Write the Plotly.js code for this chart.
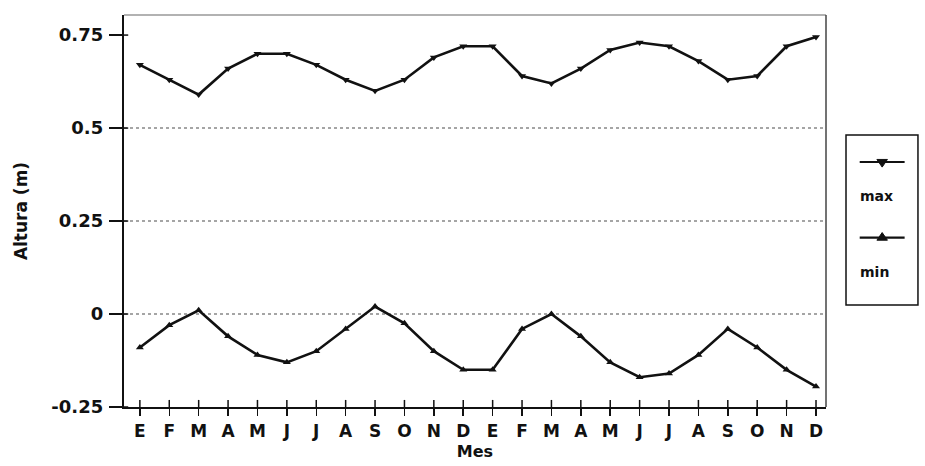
<!DOCTYPE html>
<html>
<head>
<meta charset="utf-8">
<script src="https://cdn.plot.ly/plotly-3.0.1.min.js"></script>
<style>html,body{margin:0;padding:0;background:#fff}#chart{width:925px;height:466px}</style>
</head>
<body>
<div id="chart"></div>
<script>
const months = ["E","F","M","A","M","J","J","A","S","O","N","D","E","F","M","A","M","J","J","A","S","O","N","D"];
const maxVals = [0.67,0.63,0.59,0.66,0.70,0.70,0.67,0.63,0.60,0.63,0.69,0.72,
                 0.72,0.64,0.62,0.66,0.71,0.73,0.72,0.68,0.63,0.64,0.72,0.745];
const minVals = [-0.09,-0.03,0.01,-0.06,-0.11,-0.13,-0.10,-0.04,0.02,-0.025,-0.10,-0.15,
                 -0.15,-0.04,0.00,-0.06,-0.13,-0.17,-0.16,-0.11,-0.04,-0.09,-0.15,-0.195];
const yTicks = [-0.25,0,0.25,0.5,0.75];
const yTickText = ["-0.25","0","0.25","0.5","0.75"];
const gridVals = [0,0.25,0.5];
const seriesNames = ["max","min"];

const idx = months.map((_,i)=>i);
const font = {family:"DejaVu Sans, Liberation Sans, sans-serif", color:"#111", weight:"bold"};

const traces = [
  {x: idx, y: maxVals, name: seriesNames[0], type:"scatter", mode:"lines+markers",
   line:{color:"#111", width:2.6}, marker:{symbol:"triangle-down", size:7, color:"#111"}},
  {x: idx, y: minVals, name: seriesNames[1], type:"scatter", mode:"lines+markers",
   line:{color:"#111", width:2.6}, marker:{symbol:"triangle-up", size:7, color:"#111"}}
];

const shapes = gridVals.map(v=>({type:"line", xref:"paper", x0:0, x1:1, yref:"y", y0:v, y1:v,
  line:{color:"#888", width:1.6, dash:"dot"}, layer:"below"}));
// frame
shapes.push({type:"line", xref:"paper", yref:"paper", x0:0, x1:1, y0:1, y1:1, line:{color:"#666", width:1.2}});
shapes.push({type:"line", xref:"paper", yref:"paper", x0:1, x1:1, y0:0, y1:1, line:{color:"#444", width:1.5}});
// inward tick stubs
idx.forEach(i=>shapes.push({type:"line", xref:"x", yref:"paper", x0:i, x1:i, y0:0, y1:0.018, line:{color:"#111", width:1.5}}));
yTicks.forEach(v=>shapes.push({type:"line", xref:"paper", yref:"y", x0:0, x1:0.006, y0:v, y1:v, line:{color:"#111", width:1.5}}));
// legend box
const lx0 = 1.0285, lx1 = 1.131, ly0 = 0.26, ly1 = 0.694;
shapes.push({type:"rect", xref:"paper", yref:"paper", x0:lx0, x1:lx1, y0:ly0, y1:ly1, line:{color:"#111", width:1.5}});
const legRows = [{y:0.625, sym:"down"},{y:0.432, sym:"up"}];
const annotations = [];
legRows.forEach((r,k)=>{
  shapes.push({type:"line", xref:"paper", yref:"paper", x0:1.048, x1:1.112, y0:r.y, y1:r.y, line:{color:"#111", width:2.2}});
  const cx = 1.080, dx = 0.0075, dy = 0.013;
  const path = r.sym==="down"
    ? `M ${cx-dx} ${r.y+dy*0.5} L ${cx+dx} ${r.y+dy*0.5} L ${cx} ${r.y-dy} Z`
    : `M ${cx-dx} ${r.y-dy*0.5} L ${cx+dx} ${r.y-dy*0.5} L ${cx} ${r.y+dy} Z`;
  shapes.push({type:"path", xref:"paper", yref:"paper", path:path, fillcolor:"#111", line:{color:"#111", width:1}});
  annotations.push({xref:"paper", yref:"paper", x:1.046, y:r.y-0.087, xanchor:"left", yanchor:"middle",
    text:seriesNames[k], showarrow:false, font:{...font, size:14}});
});

const layout = {
  width:925, height:466,
  margin:{l:124, r:99, t:15, b:59},
  paper_bgcolor:"#fff", plot_bgcolor:"#fff",
  showlegend:false,
  font: font,
  xaxis:{
    range:[-0.54, 23.34], tickmode:"array", tickvals: idx, ticktext: months,
    ticks:"outside", ticklen:7, tickwidth:1.5, tickcolor:"#111",
    showline:true, linecolor:"#111", linewidth:2.2, showgrid:false, zeroline:false,
    tickfont:{...font, size:17},
    title:{text:"Mes", font:{...font, size:16}, standoff:6}
  },
  yaxis:{
    range:[-0.25, 0.804], tickmode:"array", tickvals:yTicks, ticktext:yTickText,
    ticks:"outside", ticklen:13, tickwidth:1.5, tickcolor:"#111",
    showline:true, linecolor:"#111", linewidth:2.2, showgrid:false, zeroline:false,
    ticklabelstandoff: 2,
    tickfont:{...font, size:18},
    title:{text:"Altura (m)", font:{...font, size:17}, standoff:19}
  },
  shapes: shapes,
  annotations: annotations
};

Plotly.newPlot("chart", traces, layout, {displayModeBar:false, staticPlot:true});
</script>
</body>
</html>
